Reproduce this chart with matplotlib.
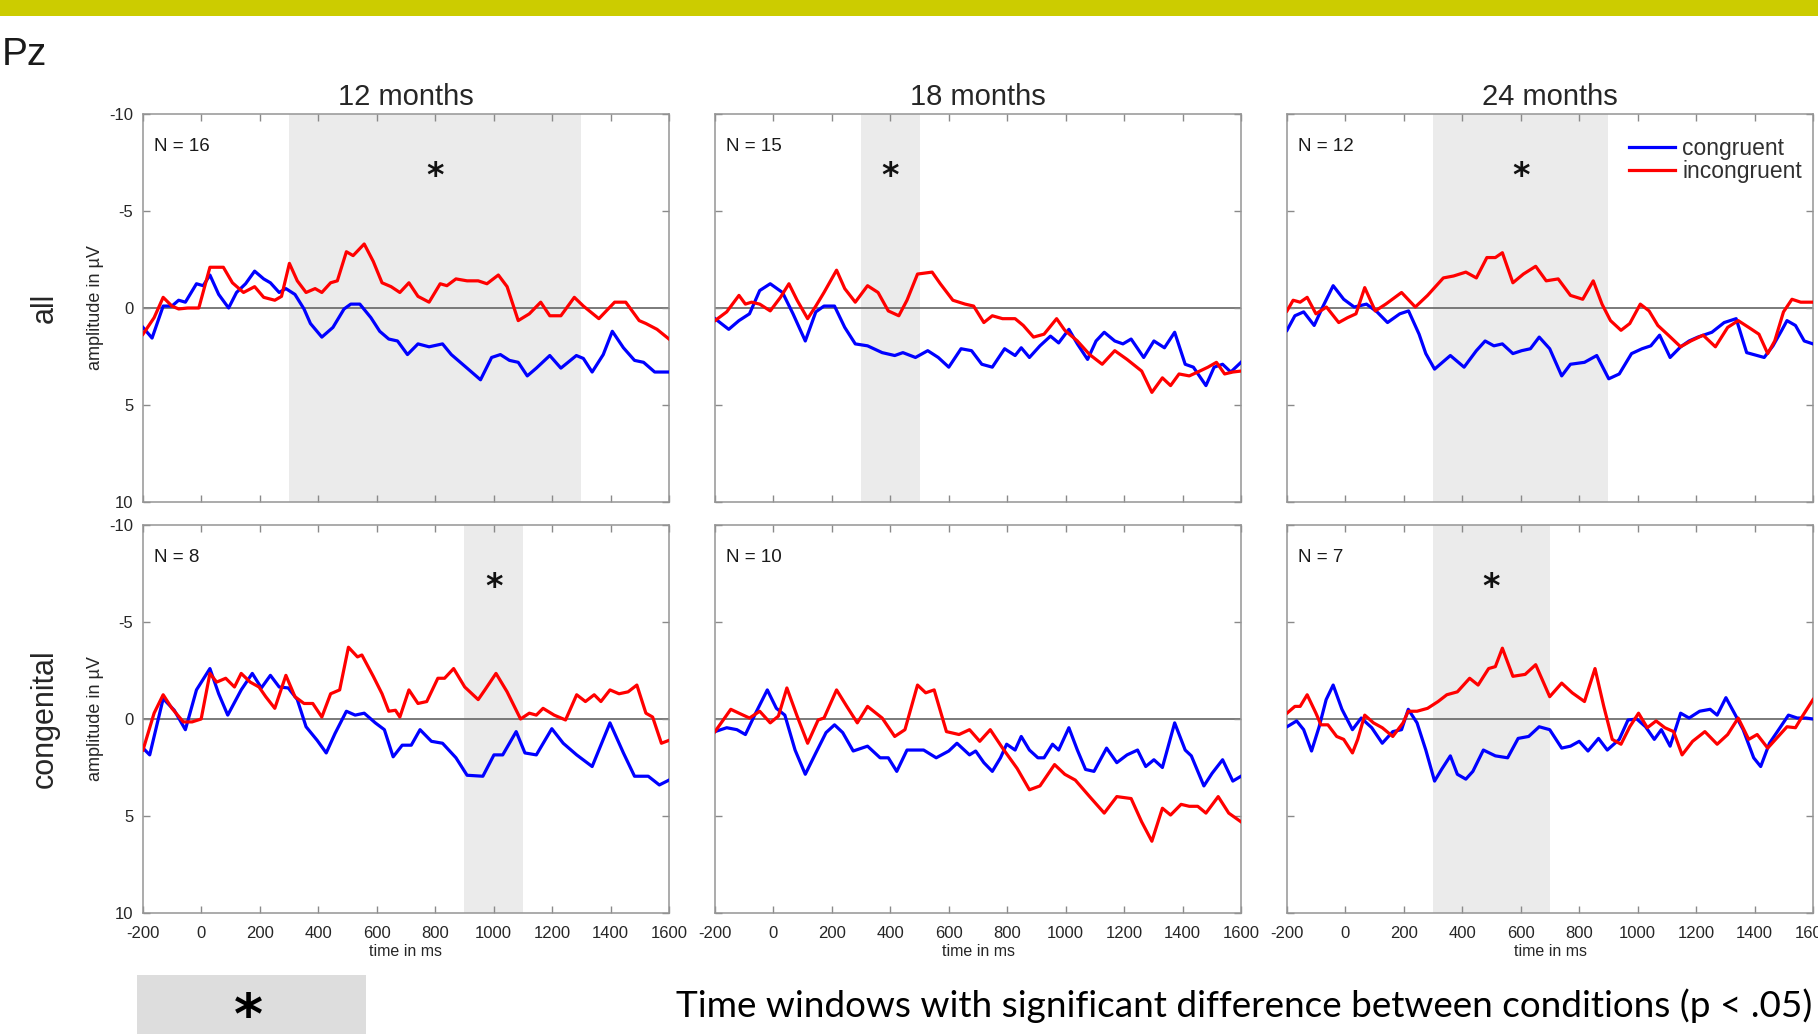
import matplotlib
matplotlib.use('Agg')
import matplotlib.pyplot as plt
from matplotlib.patches import Rectangle
import numpy as np

plt.rcParams['font.family'] = ['Liberation Sans', 'DejaVu Sans']
plt.rcParams['axes.unicode_minus'] = False

# ---- ERP traces: (time in ms, amplitude in uV) ----
# row "all"
all12_cong = [(-200,1.0),(-169,1.55),(-131,-0.1),(-101,-0.1),(-78,-0.4),(-55,-0.3),(-17,-1.25),(6,-1.15),(29,-1.7),(59,-0.7),(93,0),(120,-0.8),(151,-1.25),(182,-1.9),(213,-1.5),(236,-1.3),(266,-0.8),(289,-1.0),(320,-0.7),(351,0.05),(373,0.8),(412,1.5),(450,1.0),(488,0.05),(511,-0.2),(542,-0.2),(580,0.5),(610,1.2),(641,1.6),(671,1.7),(705,2.4),(741,1.85),(779,2.0),(825,1.85),(855,2.4),(909,3.1),(955,3.7),(993,2.55),(1023,2.4),(1054,2.7),(1084,2.8),(1115,3.5),(1146,3.1),(1192,2.45),(1230,3.1),(1283,2.45),(1307,2.6),(1337,3.3),(1375,2.4),(1406,1.2),(1444,2.05),(1482,2.7),(1513,2.8),(1551,3.3),(1600,3.3)]
all12_inc = [(-200,1.35),(-162,0.5),(-131,-0.55),(-101,-0.1),(-78,0.05),(-47,0),(-9,0),(29,-2.1),(75,-2.1),(106,-1.3),(144,-0.8),(182,-1.1),(213,-0.55),(251,-0.4),(274,-0.6),(301,-2.3),(328,-1.4),(358,-0.8),(389,-1.0),(412,-0.8),(442,-1.3),(465,-1.4),(496,-2.9),(519,-2.7),(557,-3.3),(588,-2.4),(618,-1.3),(649,-1.1),(679,-0.8),(710,-1.3),(741,-0.6),(779,-0.3),(817,-1.25),(840,-1.15),(871,-1.5),(909,-1.4),(947,-1.4),(977,-1.25),(1016,-1.7),(1046,-1.1),(1084,0.65),(1122,0.3),(1161,-0.3),(1192,0.4),(1230,0.4),(1276,-0.55),(1307,-0.1),(1360,0.55),(1414,-0.3),(1452,-0.3),(1498,0.65),(1521,0.8),(1559,1.1),(1600,1.6)]
all18_cong = [(-200,0.55),(-153,1.1),(-118,0.65),(-82,0.3),(-47,-0.9),(-11,-1.25),(31,-0.8),(67,0.3),(109,1.7),(145,0.2),(173,-0.1),(209,-0.1),(244,1.0),(280,1.85),(322,1.95),(372,2.3),(415,2.45),(443,2.3),(486,2.55),(528,2.2),(564,2.55),(600,3.05),(642,2.1),(678,2.2),(713,2.9),(749,3.05),(791,2.1),(827,2.45),(848,2.05),(876,2.55),(912,1.95),(948,1.45),(976,1.8),(1011,1.1),(1040,1.85),(1075,2.65),(1104,1.7),(1132,1.25),(1168,1.7),(1196,1.85),(1224,1.6),(1267,2.55),(1302,1.7),(1338,2.05),(1373,1.25),(1409,2.9),(1437,3.05),(1480,4.0),(1508,3.05),(1537,2.9),(1565,3.3),(1600,2.8)]
all18_inc = [(-200,0.65),(-160,0.2),(-118,-0.65),(-96,-0.2),(-75,-0.3),(-47,-0.2),(-11,0.15),(24,-0.55),(53,-1.25),(81,-0.4),(117,0.55),(145,-0.1),(173,-0.8),(216,-1.95),(244,-1.0),(280,-0.3),(322,-1.15),(358,-0.8),(393,0.15),(429,0.4),(457,-0.4),(493,-1.75),(543,-1.85),(571,-1.25),(614,-0.4),(656,-0.2),(685,-0.1),(720,0.75),(749,0.4),(784,0.55),(827,0.55),(855,0.9),(890,1.5),(926,1.35),(969,0.55),(997,1.15),(1040,1.7),(1082,2.4),(1125,2.9),(1168,2.2),(1210,2.65),(1260,3.25),(1295,4.35),(1331,3.6),(1359,4.0),(1388,3.4),(1423,3.5),(1452,3.3),(1487,3.05),(1516,2.8),(1544,3.4),(1572,3.3),(1600,3.25)]
all24_cong = [(-200,1.15),(-173,0.4),(-143,0.2),(-107,0.9),(-78,-0.05),(-42,-1.15),(-6,-0.45),(30,-0.05),(72,-0.2),(108,0.2),(144,0.75),(186,0.3),(216,0.15),(252,1.35),(275,2.35),(305,3.15),(359,2.45),(406,3.05),(448,2.2),(478,1.7),(508,1.95),(537,1.85),(573,2.35),(603,2.2),(633,2.1),(663,1.5),(699,2.1),(740,3.5),(770,2.9),(818,2.8),(860,2.45),(901,3.65),(937,3.4),(979,2.35),(1015,2.1),(1045,1.95),(1075,1.4),(1111,2.55),(1147,2.0),(1176,1.7),(1206,1.5),(1254,1.25),(1296,0.75),(1337,0.55),(1373,2.3),(1409,2.45),(1433,2.55),(1463,1.95),(1493,1.15),(1511,0.65),(1540,0.9),(1570,1.7),(1600,1.85)]
all24_inc = [(-200,0.15),(-179,-0.4),(-155,-0.3),(-131,-0.55),(-101,0.3),(-65,-0.05),(-23,0.75),(7,0.5),(36,0.3),(66,-1.05),(102,0.15),(138,-0.2),(192,-0.8),(239,-0.05),(281,-0.65),(335,-1.55),(370,-1.65),(412,-1.85),(448,-1.55),(484,-2.6),(513,-2.6),(537,-2.85),(573,-1.3),(609,-1.75),(651,-2.15),(687,-1.4),(728,-1.5),(770,-0.65),(812,-0.45),(848,-1.4),(878,-0.2),(907,0.65),(943,1.15),(973,0.8),(1009,-0.2),(1039,0.15),(1069,0.9),(1105,1.4),(1147,2.0),(1182,1.7),(1224,1.4),(1266,2.0),(1308,1.0),(1344,0.65),(1380,1.0),(1415,1.35),(1445,2.35),(1469,1.7),(1499,0.2),(1528,-0.45),(1558,-0.3),(1600,-0.3)]

# row "congenital"
cong12_cong = [(-200,1.5),(-177,1.85),(-131,-1.05),(-93,-0.45),(-55,0.55),(-17,-1.5),(29,-2.6),(59,-1.3),(90,-0.2),(136,-1.5),(174,-2.35),(205,-1.6),(236,-2.25),(266,-1.65),(297,-1.6),(328,-1.0),(358,0.4),(396,1.1),(427,1.75),(457,0.75),(496,-0.4),(526,-0.2),(557,-0.3),(595,0.2),(626,0.55),(656,1.95),(687,1.35),(718,1.35),(748,0.55),(787,1.15),(825,1.25),(871,2.0),(909,2.9),(963,2.95),(1001,1.85),(1031,1.85),(1077,0.65),(1107,1.75),(1146,1.85),(1199,0.5),(1238,1.25),(1284,1.85),(1337,2.45),(1398,0.2),(1444,1.75),(1482,2.95),(1529,2.95),(1567,3.4),(1600,3.15)]
cong12_inc = [(-200,1.6),(-162,-0.3),(-131,-1.25),(-101,-0.55),(-62,0.15),(-32,0.15),(-1,0),(29,-2.35),(52,-1.9),(83,-2.1),(113,-1.65),(136,-2.35),(167,-1.9),(197,-1.65),(220,-1.15),(251,-0.55),(289,-2.25),(320,-1.15),(351,-0.8),(381,-0.8),(412,-0.1),(442,-1.3),(473,-1.5),(503,-3.7),(534,-3.2),(549,-3.3),(588,-2.2),(618,-1.3),(641,-0.4),(664,-0.45),(679,-0.1),(710,-1.5),(741,-0.8),(771,-0.9),(809,-2.1),(832,-2.1),(863,-2.6),(901,-1.65),(947,-1.0),(970,-1.5),(1008,-2.35),(1046,-1.4),(1092,0),(1122,-0.3),(1146,-0.2),(1169,-0.55),(1207,-0.2),(1246,0.05),(1284,-1.25),(1314,-0.9),(1344,-1.25),(1367,-0.9),(1398,-1.5),(1429,-1.3),(1460,-1.4),(1490,-1.75),(1521,-0.3),(1544,-0.1),(1574,1.25),(1600,1.1)]
cong18_cong = [(-200,0.65),(-160,0.45),(-125,0.55),(-96,0.8),(-61,-0.3),(-21,-1.5),(10,-0.55),(39,-0.2),(74,1.6),(109,2.85),(145,1.75),(180,0.7),(209,0.3),(237,0.7),(273,1.65),(322,1.4),(365,2.0),(393,2.0),(422,2.7),(457,1.6),(514,1.6),(557,2.0),(600,1.65),(628,1.25),(671,1.85),(692,1.65),(720,2.25),(749,2.7),(777,2.0),(798,1.3),(827,1.6),(848,0.9),(876,1.6),(905,2.0),(926,2.0),(955,1.3),(976,1.6),(1011,0.45),(1040,1.6),(1068,2.6),(1097,2.7),(1140,1.5),(1175,2.25),(1210,1.85),(1246,1.6),(1274,2.45),(1302,2.1),(1331,2.5),(1373,0.2),(1409,1.6),(1430,1.9),(1473,3.45),(1501,2.8),(1537,2.1),(1572,3.2),(1600,2.95)]
cong18_inc = [(-200,0.65),(-146,-0.5),(-118,-0.3),(-82,-0.05),(-47,-0.4),(-11,0.2),(17,-0.15),(46,-1.6),(81,-0.15),(117,1.25),(153,0.05),(173,-0.05),(216,-1.5),(251,-0.65),(287,0.2),(322,-0.65),(372,-0.05),(415,0.9),(450,0.55),(493,-1.75),(521,-1.35),(550,-1.5),(592,0.65),(635,0.8),(671,0.55),(706,1.15),(742,0.55),(784,1.5),(834,2.55),(876,3.65),(912,3.45),(962,2.35),(997,2.85),(1033,3.15),(1082,4.0),(1132,4.85),(1175,4.0),(1224,4.1),(1260,5.3),(1295,6.3),(1331,4.6),(1359,4.95),(1395,4.4),(1423,4.5),(1452,4.5),(1480,4.85),(1522,4.0),(1558,4.85),(1600,5.3)]
cong24_cong = [(-200,0.4),(-167,0.1),(-143,0.55),(-116,1.65),(-90,0.4),(-66,-1.0),(-42,-1.75),(-12,-0.5),(24,0.55),(54,-0.05),(90,0.45),(126,1.25),(162,0.65),(192,0.55),(215,-0.5),(245,0.2),(275,1.6),(305,3.2),(329,2.6),(359,1.9),(383,2.85),(412,3.1),(436,2.7),(472,1.6),(513,1.9),(555,2.0),(591,1.0),(627,0.9),(663,0.4),(699,0.55),(740,1.5),(770,1.4),(800,1.15),(830,1.65),(866,1.0),(896,1.6),(937,1.05),(967,0.05),(997,0),(1027,0.4),(1057,1.05),(1081,0.55),(1111,1.4),(1147,-0.3),(1176,-0.05),(1212,-0.4),(1248,-0.5),(1272,-0.2),(1302,-1.1),(1331,-0.3),(1361,0.55),(1397,2.0),(1421,2.45),(1451,1.25),(1487,0.45),(1516,-0.2),(1546,-0.05),(1576,-0.05),(1600,0)]
cong24_inc = [(-200,-0.3),(-173,-0.65),(-155,-0.65),(-131,-1.25),(-101,-0.3),(-84,0.3),(-60,0.3),(-30,0.9),(-6,1.05),(24,1.75),(42,1.05),(66,-0.2),(96,0.2),(126,0.45),(162,0.9),(197,0.2),(215,-0.4),(245,-0.4),(281,-0.55),(317,-0.9),(347,-1.25),(383,-1.4),(425,-2.1),(454,-1.75),(490,-2.6),(513,-2.7),(537,-3.65),(573,-2.2),(615,-2.3),(651,-2.8),(699,-1.15),(740,-1.85),(776,-1.35),(818,-0.9),(854,-2.6),(884,-0.65),(913,1.05),(943,1.3),(973,0.4),(1003,-0.3),(1033,0.45),(1063,0.1),(1093,0.45),(1123,0.65),(1152,1.85),(1188,1.15),(1230,0.65),(1272,1.3),(1308,0.8),(1344,-0.05),(1380,1.05),(1409,0.8),(1445,1.5),(1481,0.9),(1511,0.4),(1540,0.45),(1564,-0.15),(1600,-1.0)]

ages = ['12 months', '18 months', '24 months']
groups = ['all', 'congenital']
n_subj = [[16, 15, 12], [8, 10, 7]]
sig_win = [[(300, 1300), (300, 500), (300, 900)],
           [(900, 1100), None, (300, 700)]]
traces = [[(all12_cong, all12_inc), (all18_cong, all18_inc), (all24_cong, all24_inc)],
          [(cong12_cong, cong12_inc), (cong18_cong, cong18_inc), (cong24_cong, cong24_inc)]]
xticks = [-200, 0, 200, 400, 600, 800, 1000, 1200, 1400, 1600]
yticks = [-10, -5, 0, 5, 10]
note_txt = 'Time windows with significant difference between conditions (p < .05)'

# layout in pixels of the 1818x1034 picture
W, H = 1818, 1034
col_x = [143, 715, 1287]
row_y = [114, 525]
ax_w, ax_h = 526, 388

fig = plt.figure(figsize=(W / 100, H / 100), dpi=100)
fig.patches.append(Rectangle((0, 1 - 16 / H), 1, 16 / H, transform=fig.transFigure,
                             color='#cccc00', lw=0, zorder=0))
fig.text(2 / W, 1 - 65 / H, 'Pz', fontsize=28, va='baseline', color='#1a1a1a')

for r in range(2):
    fig.text(45 / W, 1 - (row_y[r] + ax_h / 2) / H, groups[r], rotation=90,
             ha='center', va='center', fontsize=22, color='#262626')
    for c in range(3):
        ax = fig.add_axes([col_x[c] / W, 1 - (row_y[r] + ax_h) / H, ax_w / W, ax_h / H])
        win = sig_win[r][c]
        if win:
            ax.axvspan(win[0], win[1], color='#ebebeb', lw=0, zorder=0)
            ax.text(np.mean(win), -6.3, '*', ha='center', va='baseline', fontsize=24,
                    fontweight='bold', family='DejaVu Sans', color='#111111')
        ax.axhline(0, color='#707070', lw=1.3, zorder=1)
        cong, inc = traces[r][c]
        t, v = np.array(cong).T
        ax.plot(t, v, color='#0000ff', lw=2.3, label='congruent', zorder=3,
                solid_joinstyle='round')
        t, v = np.array(inc).T
        ax.plot(t, v, color='#ff0000', lw=2.3, label='incongruent', zorder=3,
                solid_joinstyle='round')
        ax.text(0.021, 0.905, 'N = %d' % n_subj[r][c], transform=ax.transAxes,
                fontsize=13.5, va='baseline', color='#1a1a1a')

        ax.set_xlim(-200, 1600)
        ax.set_ylim(10, -10)
        ax.set_xticks(xticks)
        ax.set_yticks(yticks)
        ax.tick_params(direction='in', top=True, right=True, length=5, width=1,
                       color='#8a8a8a', labelsize=12, labelcolor='#262626')
        ax.tick_params(axis='y', pad=7)
        ax.tick_params(axis='x', pad=9)
        for s in ax.spines.values():
            s.set_color('#959595')
            s.set_linewidth(1.1)

        if r == 0:
            ax.tick_params(labelbottom=False)
            fig.text((col_x[c] + ax_w / 2) / W, 1 - 105 / H, ages[c], ha='center',
                     va='baseline', fontsize=21, color='#262626')
        else:
            ax.set_xlabel('time in ms', fontsize=11.5, va='center', color='#262626')
            ax.xaxis.set_label_coords(0.5, -0.1)
        if c == 0:
            ax.set_ylabel('amplitude in \u00b5V', fontsize=13, va='center', color='#262626')
            ax.yaxis.set_label_coords(-0.091, 0.5)
        else:
            ax.tick_params(labelleft=False)
        if r == 0 and c == 2:
            ax.legend(loc='upper right', bbox_to_anchor=(0.979, 0.94), frameon=False,
                      fontsize=16.5, handlelength=2.0, handletextpad=0.3,
                      labelspacing=0.0, borderpad=0, borderaxespad=0,
                      labelcolor='#303030')

# key for the grey windows
fig.patches.append(Rectangle((137 / W, 0), (366 - 137) / W, (1034 - 975) / H,
                             transform=fig.transFigure, color='#dddddd', lw=0, zorder=0))
fig.text(248 / W, 1 - 1033 / H, '*', ha='center', va='baseline', fontsize=40,
         fontweight='bold', family='DejaVu Sans', color='black')
note = fig.text(676 / W, 1 - 1006 / H, note_txt, ha='left', va='center',
                fontsize=28, family='Lato', color='black')
fig.canvas.draw()
note.set_fontsize(28 * (1812 - 676) / note.get_window_extent().width)

fig.savefig('out.png', dpi=100)
